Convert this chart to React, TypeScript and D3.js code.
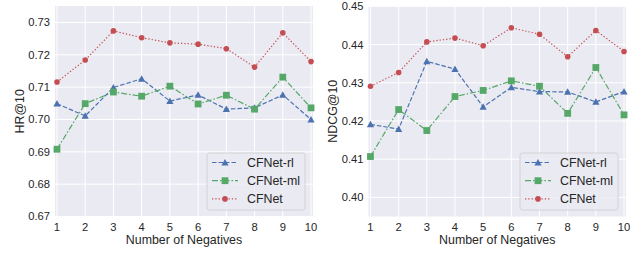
import * as d3 from "d3";

const negatives = [1, 2, 3, 4, 5, 6, 7, 8, 9, 10];

const hrRl = [0.7049, 0.7011, 0.7099, 0.7126, 0.7057, 0.7076, 0.7032, 0.7036, 0.7076, 0.7];
const hrMl = [0.6908, 0.7049, 0.7085, 0.7072, 0.7103, 0.7048, 0.7075, 0.7032, 0.7131, 0.7036];
const hrCf = [0.7116, 0.7184, 0.7274, 0.7253, 0.7237, 0.7233, 0.7219, 0.7162, 0.7268, 0.7179];

const ndcgRl = [0.4191, 0.4179, 0.4356, 0.4336, 0.4237, 0.4288, 0.4277, 0.4276, 0.425, 0.4277];
const ndcgMl = [0.4107, 0.423, 0.4175, 0.4264, 0.428, 0.4305, 0.4291, 0.422, 0.434, 0.4216];
const ndcgCf = [0.4291, 0.4327, 0.4407, 0.4417, 0.4397, 0.4444, 0.4427, 0.4368, 0.4437, 0.4382];

const hrTicks = [0.67, 0.68, 0.69, 0.7, 0.71, 0.72, 0.73];
const ndcgTicks = [0.4, 0.41, 0.42, 0.43, 0.44, 0.45];

const seriesStyle = [
  { name: "CFNet-rl", color: "#4c72b0", dash: "4.5,2", marker: "triangle" },
  { name: "CFNet-ml", color: "#55a868", dash: "6,2,1.5,2", marker: "square" },
  { name: "CFNet", color: "#c44e52", dash: "1.3,2", marker: "circle" },
];

const font = "'Liberation Sans', Arial, sans-serif";
const ink = "#262626";

const Marker = ({ kind, x, y, color }: { kind: string; x: number; y: number; color: string }) => {
  if (kind === "triangle") {
    const s = 3.6;
    return (
      <path
        d={`M${x},${y - s} L${x + s},${y + s * 0.8} L${x - s},${y + s * 0.8}Z`}
        fill={color}
      />
    );
  }
  if (kind === "square") {
    const s = 3.4;
    return <rect x={x - s} y={y - s} width={2 * s} height={2 * s} fill={color} />;
  }
  return <circle cx={x} cy={y} r={2.8} fill={color} />;
};

const Panel = ({
  left,
  right,
  domain,
  ticks,
  label,
  series,
  legendX,
  labelX,
}: {
  left: number;
  right: number;
  domain: [number, number];
  ticks: number[];
  label: string;
  series: number[][];
  legendX: number;
  labelX: number;
}) => {
  const top = 6;
  const bottom = 216.5;
  const x = d3.scaleLinear().domain([0.93, 10.07]).range([left, right]);
  const y = d3.scaleLinear().domain(domain).range([bottom, top]);
  const line = d3
    .line<number>()
    .x((_, i) => x(negatives[i]))
    .y((d) => y(d));

  return (
    <g fontFamily={font}>
      <rect x={left} y={top} width={right - left} height={bottom - top} fill="#eaeaf2" />
      {negatives.map((n) => (
        <line key={n} x1={x(n)} x2={x(n)} y1={top} y2={bottom} stroke="#fff" strokeWidth={1} />
      ))}
      {ticks.map((t) => (
        <line key={t} x1={left} x2={right} y1={y(t)} y2={y(t)} stroke="#fff" strokeWidth={1} />
      ))}
      {ticks.map((t) => (
        <text
          key={t}
          x={left - 5}
          y={y(t)}
          dy="0.35em"
          textAnchor="end"
          fontSize={11.2}
          fill={ink}
        >
          {t.toFixed(2)}
        </text>
      ))}
      {negatives.map((n) => (
        <text key={n} x={x(n)} y={230.5} textAnchor="middle" fontSize={11.2} fill={ink}>
          {n}
        </text>
      ))}
      <text x={(left + right) / 2} y={243.5} textAnchor="middle" fontSize={12.4} fill={ink}>
        Number of Negatives
      </text>
      <text
        transform={`translate(${labelX},${(top + bottom) / 2}) rotate(-90)`}
        textAnchor="middle"
        fontSize={12.4}
        fill={ink}
      >
        {label}
      </text>

      {series.map((vals, si) => {
        const st = seriesStyle[si];
        return (
          <g key={st.name}>
            <path
              d={line(vals) ?? ""}
              fill="none"
              stroke={st.color}
              strokeWidth={1.2}
              strokeDasharray={st.dash}
            />
            {vals.map((v, i) => (
              <Marker key={i} kind={st.marker} x={x(negatives[i])} y={y(v)} color={st.color} />
            ))}
          </g>
        );
      })}

      {/* legend */}
      <g transform={`translate(${legendX},153)`}>
        <rect
          x={0}
          y={0}
          width={98}
          height={57}
          rx={2.5}
          fill="#eaeaf2"
          fillOpacity={0.8}
          stroke="#cccccc"
          strokeWidth={0.8}
        />
        {seriesStyle.map((st, i) => {
          const ly = 9.5 + i * 18.2;
          return (
            <g key={st.name}>
              <line
                x1={5}
                x2={31}
                y1={ly}
                y2={ly}
                stroke={st.color}
                strokeWidth={1.2}
                strokeDasharray={st.dash}
              />
              <Marker kind={st.marker} x={18} y={ly} color={st.color} />
              <text x={40} y={ly} dy="0.36em" fontSize={12.4} fill={ink}>
                {st.name}
              </text>
            </g>
          );
        })}
      </g>
    </g>
  );
};

export default function App() {
  return (
    <svg width={641} height={253} style={{ display: "block", position: "absolute", left: 0, top: 0 }}>
      <rect width={641} height={253} fill="#fff" />
      <Panel
        left={55}
        right={313}
        domain={[0.67, 0.7351]}
        ticks={hrTicks}
        label="HR@10"
        series={[hrRl, hrMl, hrCf]}
        legendX={207}
        labelX={23.5}
      />
      <Panel
        left={368.5}
        right={626}
        domain={[0.395, 0.4501]}
        ticks={ndcgTicks}
        label="NDCG@10"
        series={[ndcgRl, ndcgMl, ndcgCf]}
        legendX={520}
        labelX={337}
      />
    </svg>
  );
}
